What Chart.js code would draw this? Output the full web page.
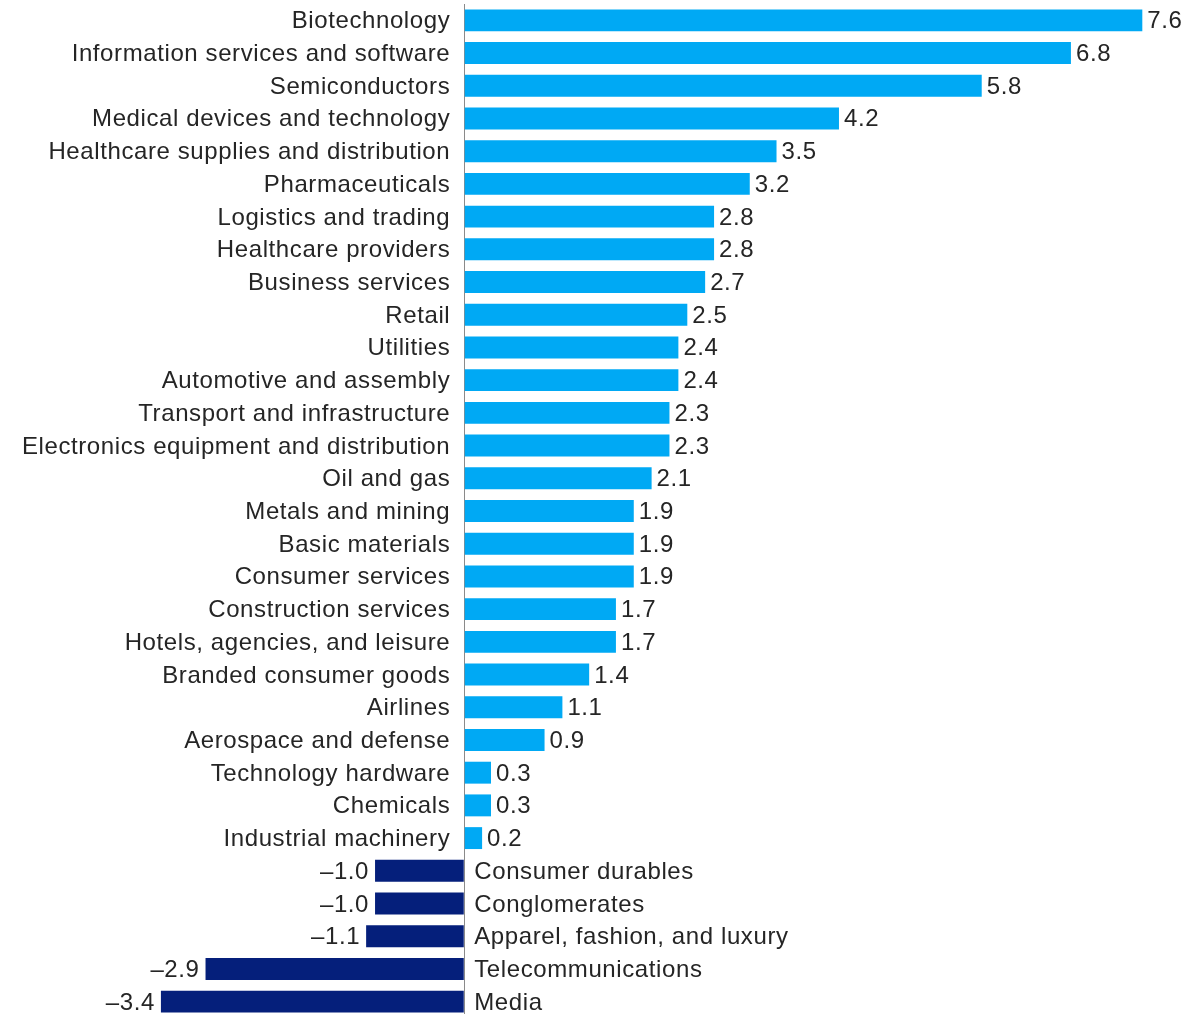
<!DOCTYPE html>
<html>
<head>
<meta charset="utf-8">
<script src="https://cdn.jsdelivr.net/npm/chart.js@4.4.1/dist/chart.umd.min.js"></script>
<style>
  html, body { margin: 0; padding: 0; background: #fff; overflow: hidden; }
  #wrap { position: relative; width: 1184px; height: 1022px; }
</style>
</head>
<body>
<div id="wrap"><canvas id="chart"></canvas></div>
<script>
// Industry values, top to bottom
const categories = [
  "Biotechnology",
  "Information services and software",
  "Semiconductors",
  "Medical devices and technology",
  "Healthcare supplies and distribution",
  "Pharmaceuticals",
  "Logistics and trading",
  "Healthcare providers",
  "Business services",
  "Retail",
  "Utilities",
  "Automotive and assembly",
  "Transport and infrastructure",
  "Electronics equipment and distribution",
  "Oil and gas",
  "Metals and mining",
  "Basic materials",
  "Consumer services",
  "Construction services",
  "Hotels, agencies, and leisure",
  "Branded consumer goods",
  "Airlines",
  "Aerospace and defense",
  "Technology hardware",
  "Chemicals",
  "Industrial machinery",
  "Consumer durables",
  "Conglomerates",
  "Apparel, fashion, and luxury",
  "Telecommunications",
  "Media"
];
const values = [
  7.6, 6.8, 5.8, 4.2, 3.5, 3.2, 2.8, 2.8, 2.7, 2.5,
  2.4, 2.4, 2.3, 2.3, 2.1, 1.9, 1.9, 1.9, 1.7, 1.7,
  1.4, 1.1, 0.9, 0.3, 0.3, 0.2, -1.0, -1.0, -1.1, -2.9,
  -3.4
];

const POS_COLOR = "#00A9F4";
const NEG_COLOR = "#051F7B";
const TEXT_COLOR = "#252525";
const FONT = "24px 'Liberation Sans', Arial, sans-serif";

function fmt(v) {
  const s = Math.abs(v).toFixed(1);
  return v < 0 ? "\u2013" + s : s;
}

// Category names sit on the opposite side of zero from their bar;
// value labels sit just beyond the bar's end.
const labelPlugin = {
  id: "barLabels",
  afterDatasetsDraw(chart) {
    const ctx = chart.ctx;
    const xs = chart.scales.x;
    const meta = chart.getDatasetMeta(0);
    const zero = xs.getPixelForValue(0);
    ctx.save();
    ctx.font = FONT;
    ctx.letterSpacing = "0.6px";
    ctx.fillStyle = TEXT_COLOR;
    ctx.textBaseline = "alphabetic";
    meta.data.forEach((bar, i) => {
      const v = values[i];
      const y = bar.y + 8;
      if (v >= 0) {
        ctx.textAlign = "right";
        ctx.fillText(categories[i], zero - 14, y);
        ctx.textAlign = "left";
        ctx.fillText(fmt(v), bar.x + 5, y);
      } else {
        ctx.textAlign = "left";
        ctx.fillText(categories[i], zero + 10, y);
        ctx.textAlign = "right";
        ctx.fillText(fmt(v), bar.x - 6, y);
      }
    });
    ctx.restore();
  }
};

new Chart(document.getElementById("chart"), {
  type: "bar",
  data: {
    labels: categories,
    datasets: [{
      data: values,
      backgroundColor: values.map(v => v >= 0 ? POS_COLOR : NEG_COLOR),
      borderWidth: 0,
      categoryPercentage: 1,
      barPercentage: 0.67
    }]
  },
  options: {
    indexAxis: "y",
    responsive: true,
    maintainAspectRatio: false,
    animation: false,
    layout: { padding: { left: 152, right: 6, top: 4, bottom: 4 } },
    plugins: { legend: { display: false }, tooltip: { enabled: false } },
    scales: {
      x: {
        type: "linear",
        min: -3.5,
        max: 8.0,
        ticks: { display: false, stepSize: 0.5 },
        border: { display: false },
        grid: {
          drawTicks: false,
          lineWidth: 1,
          color: c => (c.tick && c.tick.value === 0) ? "#8a8a8a" : "rgba(0,0,0,0)"
        }
      },
      y: {
        display: false,
        grid: { display: false }
      }
    }
  },
  plugins: [labelPlugin]
});
</script>
</body>
</html>
